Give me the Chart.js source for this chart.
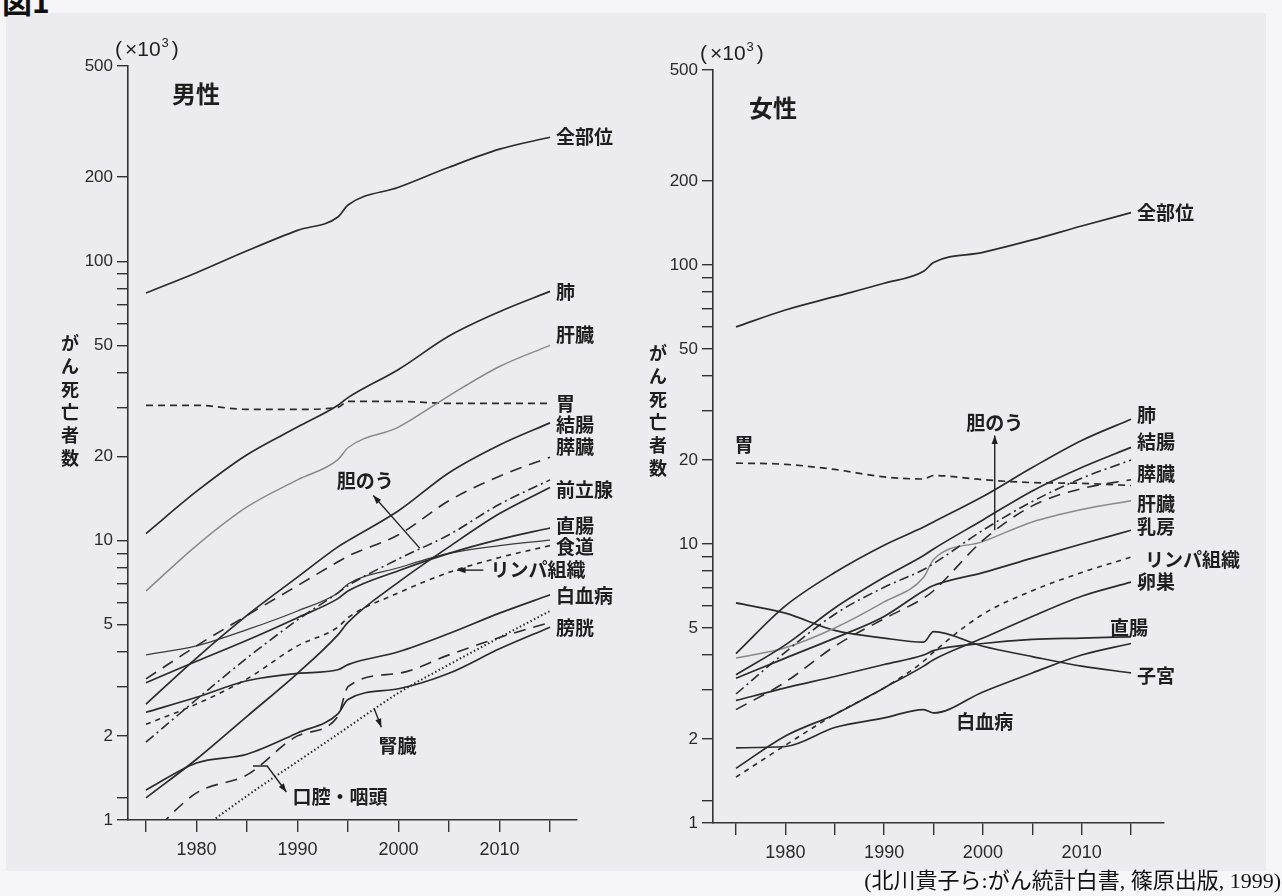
<!DOCTYPE html>
<html>
<head>
<meta charset="utf-8">
<script src="https://cdn.jsdelivr.net/npm/chart.js@4.4.1/dist/chart.umd.min.js"></script>
<style>
  body { margin: 0; width: 1282px; height: 896px; overflow: hidden; background: #f6f6f8; position: relative; }
  #scan { position: absolute; left: 6px; top: 13px; width: 1260px; height: 858px; background: #ececf0; }
  .box { position: absolute; top: 0; height: 896px; }
  #fig { position: absolute; left: 2px; top: -22px; font: bold 30px "Noto Sans CJK JP"; color: #111; }
  #cite { position: absolute; right: 1px; top: 862px; font: 22px "Liberation Serif", "Noto Sans CJK JP"; color: #111; white-space: nowrap; }
</style>
</head>
<body>
<div id="scan"></div>
<div id="fig">図1</div>
<div class="box" style="left:0;width:640px"><canvas id="male"></canvas></div>
<div class="box" style="left:640px;width:642px"><canvas id="female"></canvas></div>
<div id="cite">(北川貴子ら:がん統計白書, 篠原出版, 1999)</div>
<script>
// 年 (x軸)
const years = [1975, 1980, 1985, 1990, 1994, 1995, 2000, 2005, 2010, 2015];
const xTicks = [1975, 1980, 1985, 1990, 1995, 2000, 2005, 2010, 2015];
const xLabels = [1980, 1990, 2000, 2010];
const yTicks = [1, 1.2, 2, 3, 4, 5, 6, 7, 8, 9, 10, 20, 30, 40, 50, 60, 70, 80, 90, 100, 200, 500];
const yLabels = [1, 2, 5, 10, 20, 50, 100, 200, 500];

// 男性 (×10^3)
const mAll = [77, 91, 109, 129, 144, 159, 184, 217, 252, 278];
const mLung = [10.6, 15, 20.3, 25.5, 30.5, 32.5, 41, 54, 66, 78];
const mLiver = [6.6, 9.6, 13.2, 16.5, 19.5, 21.5, 25.5, 33, 42, 50];
const mStomach = [30.5, 30.5, 29.5, 29.5, 30, 31.5, 31.5, 31, 31, 31];
const mColon = [2.6, 3.8, 5.4, 7.4, 9.5, 10, 12.8, 17.5, 22, 26.4];
const mPancreas = [3.2, 4.2, 5.4, 6.9, 8.4, 8.8, 10.5, 13.9, 17, 19.9];
const mGallbladder = [1.9, 2.7, 3.8, 5.2, 6.5, 6.9, 8.6, 10.5, 13.5, 16.5];
const mProstate = [1.2, 1.65, 2.35, 3.35, 4.6, 5.1, 7.1, 9.5, 12.5, 15.5];
const mRectum = [3.1, 3.7, 4.4, 5.3, 6.2, 6.6, 7.8, 9.0, 10.1, 11.1];
const mEsophagus = [3.9, 4.2, 4.8, 5.6, 6.5, 7.0, 8.0, 9.0, 9.6, 10.05];
const mLymph = [2.2, 2.6, 3.2, 4.2, 4.9, 5.3, 6.5, 7.7, 8.7, 9.6];
const mLeukemia = [2.43, 2.75, 3.15, 3.35, 3.45, 3.6, 4.0, 4.65, 5.5, 6.4];
const mKidney = [0.65, 0.9, 1.22, 1.62, 2.03, 2.15, 2.85, 3.6, 4.5, 5.6];
const mOral = [0.85, 1.25, 1.45, 2.0, 2.35, 3.0, 3.35, 3.9, 4.5, 5.1];
const mBladder = [1.28, 1.6, 1.72, 2.05, 2.4, 2.7, 2.95, 3.35, 4.1, 4.9];

// 女性 (×10^3)
const fAll = [60, 69, 77, 86, 95, 102, 111, 123, 138, 154];
const fStomach = [19.5, 19.3, 18.5, 17.4, 17.1, 17.6, 17.0, 16.6, 16.5, 16.2];
const fLung = [4.05, 6.0, 7.9, 9.9, 11.5, 12.0, 14.8, 18.8, 23.5, 28];
const fColon = [3.4, 4.35, 5.9, 7.6, 9.1, 9.6, 12.2, 15.5, 18.8, 22.2];
const fPancreas = [2.9, 4.1, 5.6, 7.0, 8.1, 8.5, 11.2, 14.2, 17.2, 20];
const fGallbladder = [2.55, 3.2, 4.3, 5.4, 6.4, 6.8, 10.3, 13.7, 15.8, 17.0];
const fLiver = [3.9, 4.25, 5.0, 6.2, 7.6, 8.8, 10.2, 12.0, 13.3, 14.3];
const fBreast = [3.3, 3.9, 4.6, 5.5, 6.8, 7.1, 7.9, 8.9, 10.0, 11.2];
const fLymph = [1.46, 1.9, 2.45, 3.05, 3.8, 4.1, 5.6, 6.8, 7.9, 8.97];
const fOvary = [1.57, 2.05, 2.45, 3.05, 3.65, 3.85, 4.6, 5.5, 6.5, 7.3];
const fRectum = [2.75, 3.05, 3.35, 3.7, 4.0, 4.15, 4.4, 4.55, 4.6, 4.65];
const fLeukemia = [1.86, 1.88, 2.2, 2.38, 2.55, 2.48, 2.95, 3.45, 4.0, 4.4];
const fUterus = [6.15, 5.65, 4.9, 4.6, 4.45, 4.85, 4.3, 3.95, 3.65, 3.45];

const lineStyles = {
    solid: { color: '#2b2b2b', width: 1.7, dash: [] },
    thin: { color: '#3a3a3a', width: 1.2, dash: [] },
    gray: { color: '#8a8a8a', width: 1.5, dash: [] },
    dash: { color: '#2b2b2b', width: 1.7, dash: [7, 5] },
    longdash: { color: '#2b2b2b', width: 1.6, dash: [12, 8] },
    dashdot: { color: '#2b2b2b', width: 1.6, dash: [10, 4, 2, 4] },
    shortdash: { color: '#2b2b2b', width: 1.6, dash: [5, 5] },
    dot: { color: '#2b2b2b', width: 2, dash: [1.5, 2.5] }
};

const maleSeries = [
    { name: '全部位', data: mAll, style: 'solid' },
    { name: '肺', data: mLung, style: 'solid' },
    { name: '肝臓', data: mLiver, style: 'gray' },
    { name: '胃', data: mStomach, style: 'dash' },
    { name: '結腸', data: mColon, style: 'solid' },
    { name: '膵臓', data: mPancreas, style: 'longdash' },
    { name: '胆のう', data: mGallbladder, style: 'dashdot' },
    { name: '前立腺', data: mProstate, style: 'solid' },
    { name: '直腸', data: mRectum, style: 'solid' },
    { name: '食道', data: mEsophagus, style: 'thin' },
    { name: 'リンパ組織', data: mLymph, style: 'shortdash' },
    { name: '白血病', data: mLeukemia, style: 'solid' },
    { name: '腎臓', data: mKidney, style: 'dot' },
    { name: '口腔・咽頭', data: mOral, style: 'longdash' },
    { name: '膀胱', data: mBladder, style: 'solid' }
];

const femaleSeries = [
    { name: '全部位', data: fAll, style: 'solid' },
    { name: '胃', data: fStomach, style: 'dash' },
    { name: '肺', data: fLung, style: 'solid' },
    { name: '結腸', data: fColon, style: 'solid' },
    { name: '膵臓', data: fPancreas, style: 'dashdot' },
    { name: '胆のう', data: fGallbladder, style: 'longdash' },
    { name: '肝臓', data: fLiver, style: 'gray' },
    { name: '乳房', data: fBreast, style: 'solid' },
    { name: 'リンパ組織', data: fLymph, style: 'shortdash' },
    { name: '卵巣', data: fOvary, style: 'solid' },
    { name: '直腸', data: fRectum, style: 'solid' },
    { name: '白血病', data: fLeukemia, style: 'solid' },
    { name: '子宮', data: fUterus, style: 'solid' }
];

// 線の右端に付けるラベル: [名前, 縦のずらし, 横のずらし]
const maleEndLabels = [['全部位', 0], ['肺', 0], ['肝臓', -11], ['胃', 0], ['結腸', 2], ['膵臓', -10],
    ['前立腺', 2], ['直腸', -2], ['食道', 7], ['白血病', 1], ['膀胱', 1]];
const femaleEndLabels = [['全部位', 0], ['肺', -4], ['結腸', -6], ['膵臓', 14], ['肝臓', 3], ['乳房', -3],
    ['リンパ組織', 3, 14], ['卵巣', 0], ['直腸', -9, -21], ['子宮', 3]];

const maleNotes = {
    free: [
        { t: 'リンパ組織', x: 2009.1, y: 7.84, align: 'left' },
        { t: '腎臓', x: 1999.9, y: 1.85, align: 'center' },
        { t: '口腔・咽頭', x: 1989.5, y: 1.21, align: 'left' },
        { t: '胆のう', x: 1996.7, y: 16.4, align: 'center' }
    ],
    arrows: [
        [[2008.4, 7.84], [2005.8, 7.84]],
        [[1997.6, 2.5], [1998.3, 2.15]],
        [[1985.6, 1.56], [1987, 1.56], [1988.9, 1.26]],
        [[2002.1, 9.4], [1997.5, 14.5]]
    ],
    title: ['男性', 68, 28], unit: [-13, -16], ytitle: [-58, 277]
};

const femaleNotes = {
    free: [
        { t: '胃', x: 1975.8, y: 22.6, align: 'center' },
        { t: '白血病', x: 2000.2, y: 2.3, align: 'center' },
        { t: '胆のう', x: 2001.2, y: 27.3, align: 'center' }
    ],
    arrows: [
        [[2001.2, 11.2], [2001.2, 24.5]]
    ],
    title: ['女性', 60, 38], unit: [-13, -16], ytitle: [-55, 283]
};

function notesPlugin(series, endLabels, notes) {
    return {
        id: 'notes',
        afterDatasetsDraw(chart) {
            const { ctx, chartArea: ca } = chart;
            const px = v => chart.scales.x.getPixelForValue(v);
            const py = v => chart.scales.y.getPixelForValue(v);
            const last = years.length - 1;
            ctx.save();
            ctx.fillStyle = '#1e1e1e';
            ctx.textBaseline = 'middle';
            ctx.font = 'bold 19px "Noto Sans CJK JP"';
            endLabels.forEach(([name, dy, dx]) => {
                const s = series.find(item => item.name === name);
                ctx.textAlign = 'left';
                ctx.fillText(name, px(years[last]) + (dx ?? 6), py(s.data[last]) + dy);
            });
            notes.free.forEach(l => {
                ctx.textAlign = l.align;
                ctx.fillText(l.t, px(l.x), py(l.y));
            });

            // 矢印
            ctx.strokeStyle = '#222';
            ctx.lineWidth = 1.4;
            notes.arrows.forEach(pts => {
                const p = pts.map(([a, b]) => [px(a), py(b)]);
                ctx.beginPath();
                ctx.moveTo(p[0][0], p[0][1]);
                p.slice(1).forEach(q => ctx.lineTo(q[0], q[1]));
                ctx.stroke();
                const [x1, y1] = p[p.length - 2];
                const [x2, y2] = p[p.length - 1];
                const ang = Math.atan2(y2 - y1, x2 - x1);
                ctx.beginPath();
                ctx.moveTo(x2, y2);
                ctx.lineTo(x2 - 9 * Math.cos(ang - 0.35), y2 - 9 * Math.sin(ang - 0.35));
                ctx.lineTo(x2 - 9 * Math.cos(ang + 0.35), y2 - 9 * Math.sin(ang + 0.35));
                ctx.closePath();
                ctx.fill();
            });

            // パネル名
            ctx.textAlign = 'center';
            ctx.font = 'bold 24px "Noto Sans CJK JP"';
            ctx.fillText(notes.title[0], ca.left + notes.title[1], ca.top + notes.title[2]);

            // (×10³)
            ctx.textAlign = 'left';
            ctx.font = '21px "Liberation Sans"';
            let ux = ca.left + notes.unit[0];
            const uy = ca.top + notes.unit[1];
            ctx.fillText('(', ux, uy);
            ux += ctx.measureText('(').width + 3;
            ctx.fillText('×10', ux, uy);
            ux += ctx.measureText('×10').width + 1;
            ctx.font = '13px "Liberation Sans"';
            ctx.fillText('3', ux, uy - 7);
            ux += ctx.measureText('3').width + 3;
            ctx.font = '21px "Liberation Sans"';
            ctx.fillText(')', ux, uy);

            // 縦書きの軸タイトル
            ctx.textAlign = 'center';
            ctx.font = 'bold 18px "Noto Sans CJK JP"';
            Array.from('がん死亡者数').forEach((ch, i) => {
                ctx.fillText(ch, ca.left + notes.ytitle[0], ca.top + notes.ytitle[1] + i * 23);
            });
            ctx.restore();
        }
    };
}

function makePanel(id, series, endLabels, notes, pad, xMin, xMax) {
    const datasets = series.map(s => {
        const st = lineStyles[s.style];
        return {
            label: s.name,
            data: years.map((yr, i) => ({ x: yr, y: s.data[i] })),
            borderColor: st.color,
            borderWidth: st.width,
            borderDash: st.dash,
            pointRadius: 0,
            fill: false,
            cubicInterpolationMode: 'monotone'
        };
    });
    new Chart(document.getElementById(id), {
        type: 'line',
        data: { datasets },
        options: {
            responsive: true,
            maintainAspectRatio: false,
            animation: false,
            layout: { padding: pad },
            plugins: { legend: { display: false }, tooltip: { enabled: false } },
            scales: {
                x: {
                    type: 'linear', min: xMin, max: xMax,
                    afterBuildTicks: s => { s.ticks = xTicks.map(v => ({ value: v })); },
                    afterFit: s => { s.height = 50; },
                    ticks: { autoSkip: false, maxRotation: 0, padding: 7, color: '#2a2a2a',
                        font: { family: 'Liberation Sans', size: 18 },
                        callback: v => xLabels.includes(v) ? String(v) : '' },
                    grid: { drawOnChartArea: false, tickLength: 12, color: '#333', lineWidth: 1.4 },
                    border: { color: '#333', width: 1.6 }
                },
                y: {
                    type: 'logarithmic', min: 1, max: 500,
                    afterBuildTicks: s => { s.ticks = yTicks.map(v => ({ value: v })); },
                    afterFit: s => { s.width = 60; },
                    ticks: { autoSkip: false, padding: 4, color: '#2a2a2a',
                        font: { family: 'Liberation Sans', size: 17 },
                        callback: v => yLabels.includes(v) ? String(v) : '' },
                    grid: { drawOnChartArea: false, tickLength: 11, color: '#333', lineWidth: 1.4 },
                    border: { color: '#333', width: 1.6 }
                }
            }
        },
        plugins: [notesPlugin(series, endLabels, notes)]
    });
}

makePanel('male', maleSeries, maleEndLabels, maleNotes,
    { left: 68, right: 63, top: 66, bottom: 26 }, 1973.22, 2017.67);
makePanel('female', femaleSeries, femaleEndLabels, femaleNotes,
    { left: 13, right: 118, top: 70, bottom: 23 }, 1972.67, 2018.34);
</script>
</body>
</html>
